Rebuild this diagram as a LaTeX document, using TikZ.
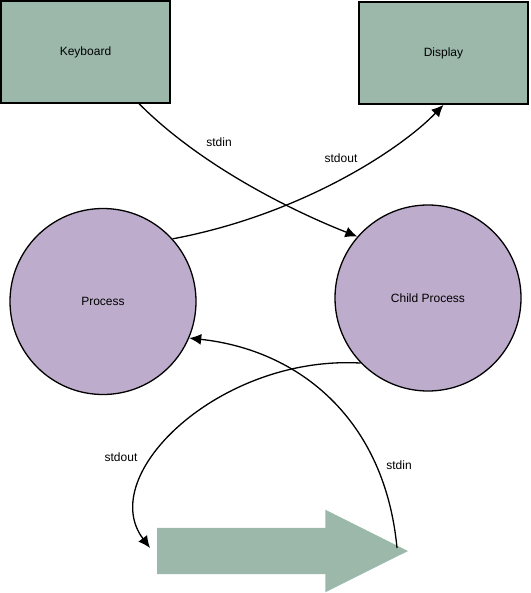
\documentclass[tikz,border=0pt]{standalone}
\usepackage{fontspec}
\setmainfont{Liberation Sans}
\usepackage{tikz}
\usetikzlibrary{arrows.meta}
\usetikzlibrary{shapes.arrows}
\definecolor{boxgreen}{HTML}{9BB8AB}
\definecolor{procpurple}{HTML}{BDACCB}

\begin{document}
\begin{tikzpicture}[x=1pt,y=-1pt,font=\fontsize{12}{14}\selectfont,
		device/.style={draw,line width=1.6pt,fill=boxgreen,minimum width=169pt,minimum height=102pt},
		proc/.style={draw,circle,line width=1.3pt,fill=procpurple,minimum size=186pt},
		flow/.style={line width=1.3pt,-{Latex[length=12pt,width=11pt]}}]
				\useasboundingbox (0,0) rectangle (530,593);
				\node[device] (kbd) at (85.5,52) {Keyboard};
				\node[device] (disp) at (443.5,53) {Display};
				\node[proc] (parent) at (103,301.5) {Process};
				\node[proc] (child) at (428,298) {Child Process};
				\node[single arrow,fill=boxgreen,anchor=tail,inner xsep=0pt,inner ysep=23pt,outer sep=0pt,
					minimum height=251pt,minimum width=82pt,
					single arrow head extend=18pt,single arrow tip angle=53] (pipe) at (157,551) {};
				% connectors
				\draw[flow] (kbd.-44) .. controls (200,165) and (290,210) .. (child.139);
				\draw[flow] (parent.42) .. controls (300,215) and (400,150) .. (disp.south);
				\draw[flow] (child.224) .. controls (220,355) and (95,475) .. ([xshift=-7pt,yshift=3pt]pipe.tail);
				\draw[flow] ([xshift=-11pt,yshift=3pt]pipe.tip) .. controls (385,420) and (300,350) .. (parent.-23);
				% labels
				\node (inA) at (219,142) {stdin};
				\node (outA) at (341,158) {stdout};
				\node (outB) at (121,457) {stdout};
				\node (inB) at (399,465) {stdin};
			\end{tikzpicture}
\end{document}
